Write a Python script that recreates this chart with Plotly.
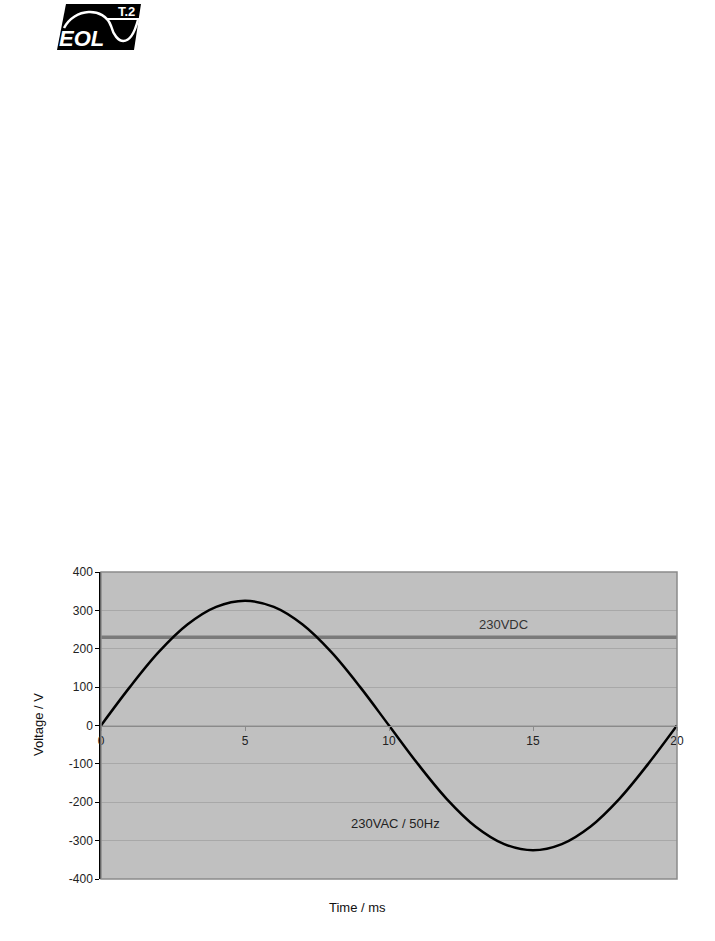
import plotly.graph_objects as go

# Data
time_ms = [0, 1, 2, 3, 4, 5, 6, 7, 8, 9, 10, 11, 12, 13, 14, 15, 16, 17, 18, 19, 20]
ac_voltage = [0, 100, 191, 263, 309, 325, 309, 263, 191, 100, 0,
              -100, -191, -263, -309, -325, -309, -263, -191, -100, 0]
dc_time = [0, 20]
dc_voltage = [230, 230]
x_ticks = [0, 5, 10, 15, 20]
y_ticks = [-400, -300, -200, -100, 0, 100, 200, 300, 400]

W, H = 715, 941
L, R, T, B = 101, 677, 572, 879  # plot area in window pixels


def px(x):
    return (x - L) / (R - L)


def py(y):
    return (B - y) / (B - T)


fig = go.Figure()
fig.add_trace(go.Scatter(x=dc_time, y=dc_voltage, mode="lines",
                         line=dict(color="#7a7a7a", width=3.5), showlegend=False))
fig.add_trace(go.Scatter(x=time_ms, y=ac_voltage, mode="lines",
                         line=dict(color="#000000", width=2.5, shape="spline"),
                         showlegend=False))

font = dict(family="Liberation Sans, Arial, sans-serif", size=12, color="#222222")

fig.update_layout(
    width=W, height=H,
    margin=dict(l=L, r=W - R, t=T, b=H - B, autoexpand=False),
    paper_bgcolor="white",
    plot_bgcolor="#c0c0c0",
    font=font,
    xaxis=dict(range=[0, 20], tickvals=x_ticks, ticktext=[str(v) for v in x_ticks],
               anchor="free", position=0.5, showgrid=False, zeroline=False,
               showline=True, linecolor="#8a8a8a", linewidth=1,
               ticks="outside", ticklen=4, tickcolor="#8a8a8a",
               tickfont=font),
    yaxis=dict(range=[-400, 400], tickvals=y_ticks, ticktext=[str(v) for v in y_ticks],
               showgrid=True, gridcolor="#a8a8a8", gridwidth=1, zeroline=False,
               showline=True, linecolor="#000000", linewidth=1.5,
               ticks="outside", ticklen=4, tickcolor="#000000",
               tickfont=font),
)

# plot frame (right and bottom gray)
fig.add_shape(type="rect", xref="paper", yref="paper", x0=0, x1=1, y0=0, y1=1,
              line=dict(color="#8a8a8a", width=1.5), layer="above")


def label(text, x, y, size=13, color="#111", angle=0, fam=None):
    fig.add_annotation(text=text, xref="paper", yref="paper", x=px(x), y=py(y),
                       xanchor="center", yanchor="middle", textangle=angle,
                       showarrow=False,
                       font=dict(family=fam or font["family"], size=size, color=color))


# axis titles
label("Time / ms", 357, 907)
label("Voltage / V", 38, 725, angle=-90)
# series labels
label("230VDC", 503, 624, color="#333")
label("230VAC / 50Hz", 395, 823, color="#222")

# logo
pts = [(66, 4), (141, 4), (134, 50), (57, 50)]
path = "M " + " L ".join(f"{px(a):.4f},{py(b):.4f}" for a, b in pts) + " Z"
fig.add_shape(type="path", xref="paper", yref="paper", path=path,
              fillcolor="black", line=dict(color="black", width=0))
curve = (f"M {px(64):.4f},{py(28):.4f} "
         f"C {px(74):.4f},{py(8):.4f} {px(104):.4f},{py(6):.4f} {px(111):.4f},{py(26):.4f} "
         f"C {px(116):.4f},{py(44):.4f} {px(130):.4f},{py(50):.4f} {px(138):.4f},{py(20):.4f}")
fig.add_shape(type="path", xref="paper", yref="paper", path=curve,
              line=dict(color="white", width=2.5))
fig.add_shape(type="line", xref="paper", yref="paper", x0=px(106), x1=px(140),
              y0=py(19), y1=py(19), line=dict(color="white", width=2))
label("<b><i>EOL</i></b>", 81, 38, size=22, color="white", fam="Liberation Sans, Arial")
label("<b>T.2</b>", 126, 11, size=13, color="white", fam="Liberation Sans, Arial")

fig.write_html("out.html", config={"displayModeBar": False},
               post_script="document.body.style.margin='0';")
